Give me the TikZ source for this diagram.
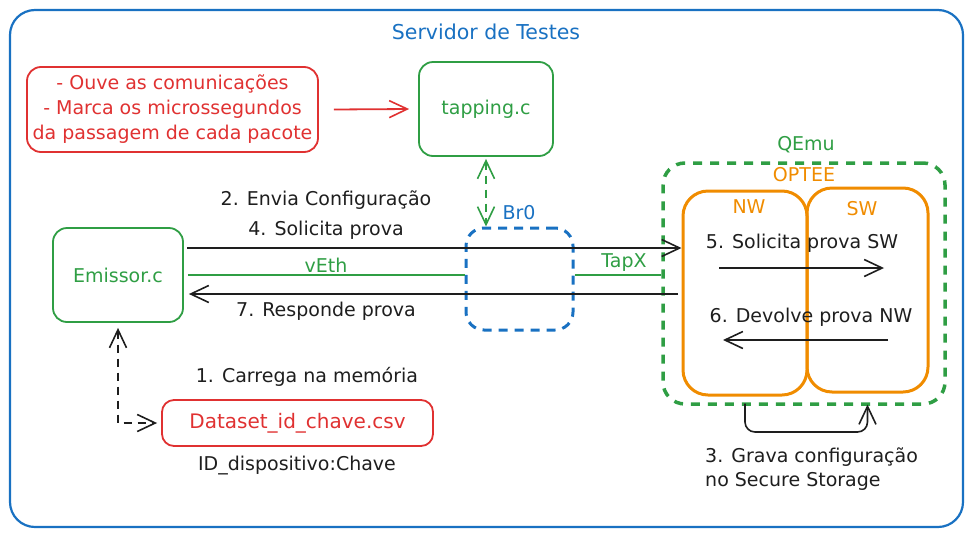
\documentclass[tikz,border=0pt]{standalone}
\usepackage{fontspec}
\setmainfont{DejaVu Sans}
\usetikzlibrary{arrows.meta,calc}
\definecolor{cblue}{HTML}{1971C2}
\definecolor{cred}{HTML}{E03131}
\definecolor{cgreen}{HTML}{2F9E44}
\definecolor{corange}{HTML}{F08C00}
\definecolor{cink}{HTML}{1E1E1E}
\begin{document}
\begin{tikzpicture}[x=1pt,y=-1pt,
  font=\fontsize{19}{23}\selectfont,
  box/.style={draw, rounded corners=14pt, line width=1.8pt, inner sep=0pt},
  tip/.style={-{Straight Barb[length=18pt,width=17pt,line width=1.6pt]}},
  tipboth/.style={{Straight Barb[length=18pt,width=17pt,line width=1.6pt]}-{Straight Barb[length=18pt,width=17pt,line width=1.6pt]}},
  inkline/.style={draw=cink, line width=1.6pt},
  dsh/.style={dash pattern=on 8pt off 6pt},
  lbl/.style={text=cink, inner sep=1pt}]
\useasboundingbox (0,0) rectangle (973,536);
% outer container
\node[draw=cblue, line width=2.2pt, rounded corners=25pt, minimum width=953pt, minimum height=517pt] (server) at (486.5,268.5) {};
\node[text=cblue, font=\fontsize{20.5}{24}\selectfont] (title) at (486,32) {Servidor de Testes};
% boxes
\node[box, draw=cred, text=cred, minimum width=291pt, minimum height=85pt, align=center, font=\fontsize{19}{25}\selectfont] (notes) at (172.5,109.5) {- Ouve as comunicações\\- Marca os microssegundos\\da passagem de cada pacote};
\node[box, draw=cgreen, text=cgreen, minimum width=134pt, minimum height=94pt] (tap) at (486,109) {tapping.c};
\node[box, draw=cgreen, text=cgreen, minimum width=130pt, minimum height=94pt] (emissor) at (118,275) {Emissor.c};
\node[box, draw=cred, text=cred, rounded corners=12pt, minimum width=271pt, minimum height=46pt, font=\fontsize{20}{24}\selectfont] (dataset) at (297.5,423) {Dataset\_id\_chave.csv};
\node[draw=cblue, line width=3pt, dash pattern=on 9pt off 7pt, rounded corners=18pt, minimum width=107pt, minimum height=102pt] (br0) at (519.5,279) {};
\node[text=cblue] (br0lbl) at (519,213) {Br0};
\node[draw=cgreen, line width=3.5pt, dash pattern=on 9pt off 8pt, rounded corners=22pt, minimum width=282pt, minimum height=241pt] (qemu) at (804,283.5) {};
\node[text=cgreen] (qemulbl) at (806,145) {QEmu};
\node[text=corange] (opteelbl) at (804,175) {OPTEE};
\node[draw=corange, line width=3pt, rounded corners=25pt, minimum width=124pt, minimum height=204pt] (nw) at (745,293) {};
\node[draw=corange, line width=3pt, rounded corners=25pt, minimum width=121pt, minimum height=204pt] (sw) at (867.5,290) {};
\node[text=corange] (nwlbl) at (749,207) {NW};
\node[text=corange] (swlbl) at (862,209) {SW};
% labels
\node[lbl] (l2) at (326,200) {2. Envia Configuração};
\node[lbl] (l4) at (326,230) {4. Solicita prova};
\node[text=cgreen, inner sep=1pt] (lveth) at (326,265) {vEth};
\node[text=cgreen, inner sep=1pt] (ltapx) at (624,263) {TapX};
\node[lbl] (l7) at (326,311) {7. Responde prova};
\node[lbl] (l5) at (802,243) {5. Solicita prova SW};
\node[lbl] (l6) at (811,317) {6. Devolve prova NW};
\node[lbl] (l1) at (307,377) {1. Carrega na memória};
\node[lbl] (lid) at (297,466) {ID\_dispositivo:Chave};
\node[lbl, anchor=west, align=left, font=\fontsize{19}{24}\selectfont] (l3) at (704,469) {3. Grava configuração\\no Secure Storage};
% connectors
\draw[draw=cred, line width=1.8pt, tip] ([xshift=15pt]notes.east) -- ([xshift=-9pt]tap.west);
\draw[draw=cgreen, line width=1.8pt, dsh, tipboth] ([yshift=-2pt]tap.south) -- (tap.south |- br0.north);
\coordinate (p4) at (187,248);
\draw[inkline, tip] (p4) -- (p4 -| nw.west);
\coordinate (p7) at (678,294);
\draw[inkline, tip, shorten >=5pt] (p7) -- (p7 -| emissor.east);
\draw[draw=cgreen, line width=2.2pt] ([xshift=4pt]emissor.east) -- (emissor.east -| br0.west);
\draw[draw=cgreen, line width=2.2pt] (emissor.east -| br0.east) -- (emissor.east -| qemu.west);
\coordinate (p5a) at (719,268);
\coordinate (p5b) at (884,268);
\draw[inkline, line width=2.2pt, tip] (p5a) -- (p5b);
\coordinate (p6a) at (888,340);
\coordinate (p6b) at (723,340);
\draw[inkline, line width=2.2pt, tip] (p6a) -- (p6b);
\draw[inkline, dsh, tipboth] ([yshift=-5pt]emissor.south) |- ([xshift=-4pt]dataset.west);
\coordinate (ss) at (745,432);
\draw[inkline, rounded corners=10pt, tip] ([yshift=-7pt]nw.south) -- (ss) -- (ss -| sw.south) -- ([yshift=-11pt]sw.south);
\end{tikzpicture}
\end{document}
